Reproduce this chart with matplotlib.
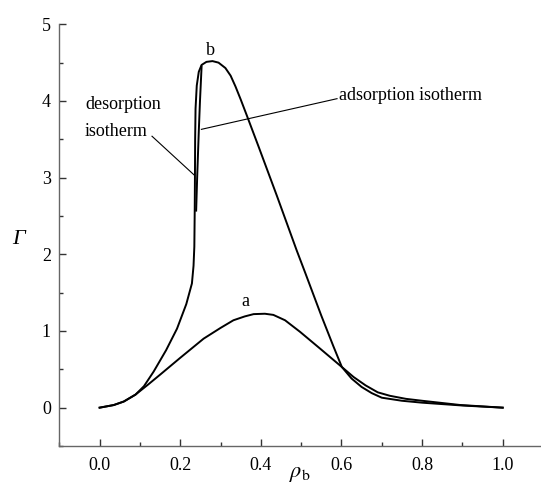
import numpy as np
from matplotlib import pyplot as plt
from matplotlib.ticker import MultipleLocator

plt.rcParams['font.family'] = ['Liberation Serif', 'DejaVu Serif']
plt.rcParams['mathtext.fontset'] = 'stix'

# curva a
x_a = [0.0, 0.035, 0.06, 0.089, 0.12, 0.15, 0.2, 0.258, 0.3, 0.332, 0.36, 0.382,
       0.41, 0.431, 0.46, 0.497, 0.547, 0.601, 0.63, 0.66, 0.69, 0.72, 0.76, 0.8,
       0.894, 1.0]
y_a = [0.0, 0.034, 0.08, 0.17, 0.30, 0.43, 0.65, 0.90, 1.04, 1.14, 1.19, 1.22,
       1.225, 1.21, 1.14, 0.99, 0.77, 0.53, 0.40, 0.29, 0.20, 0.155, 0.115, 0.09,
       0.035, 0.0]

# curva b (rama de desorcion + pico + bajada)
x_b = [0.0, 0.035, 0.06, 0.089, 0.11, 0.134, 0.165, 0.192, 0.215, 0.229, 0.233,
       0.235, 0.236, 0.2365, 0.237, 0.238, 0.241, 0.246, 0.253, 0.265, 0.28, 0.295,
       0.312, 0.325, 0.337, 0.35, 0.366, 0.394, 0.44, 0.489, 0.51, 0.55, 0.58,
       0.601, 0.625, 0.65, 0.675, 0.70, 0.75, 0.8, 0.9, 1.0]
y_b = [0.0, 0.034, 0.08, 0.17, 0.28, 0.47, 0.75, 1.03, 1.35, 1.62, 1.85,
       2.1, 2.6, 3.0, 3.5, 3.9, 4.2, 4.38, 4.47, 4.51, 4.52, 4.50,
       4.43, 4.33, 4.19, 4.02, 3.80, 3.41, 2.76, 2.05, 1.76, 1.20, 0.80,
       0.53, 0.38, 0.27, 0.19, 0.13, 0.09, 0.065, 0.028, 0.0]

# salto de adsorcion
x_ads = [0.2395, 0.242, 0.246, 0.249, 0.253]
y_ads = [2.57, 3.0, 3.6, 4.0, 4.45]

fig = plt.figure(figsize=(5.41, 4.88), dpi=100)
ax = fig.add_axes([59.3 / 541, 1 - 446 / 488, 1 - 59.3 / 541, (446 - 24.3) / 488])

ax.plot(x_a, y_a, color='black', lw=1.4)
ax.plot(x_b, y_b, color='black', lw=1.4)
ax.plot(x_ads, y_ads, color='black', lw=1.4)

# lineas guia de las etiquetas
ax.plot([0.589, 0.2525], [4.03, 3.63], color='black', lw=0.8)
ax.plot([0.130, 0.2355], [3.54, 3.03], color='black', lw=0.8)

fs = 13
ax.text(0.275, 4.66, 'b', fontsize=fs, ha='center', va='center')
ax.text(0.361, 1.38, 'a', fontsize=fs, ha='center', va='center')
ax.text(0.595, 4.07, 'adsorption isotherm', fontsize=fs, ha='left', va='center')
ax.text(-0.036, 3.95, 'desorption', fontsize=fs, ha='left', va='center')
ax.text(-0.036, 3.60, 'isotherm', fontsize=fs, ha='left', va='center')

ax.set_xlim(-0.1, 1.095)
ax.set_ylim(-0.5, 5)
ax.xaxis.set_minor_locator(MultipleLocator(0.1))
ax.yaxis.set_major_locator(MultipleLocator(1))
ax.yaxis.set_minor_locator(MultipleLocator(0.5))
ax.set_xticks([0.0, 0.2, 0.4, 0.6, 0.8, 1.0])
ax.set_xticklabels(['0.0', '0.2', '0.4', '0.6', '0.8', '1.0'])

for s in ['top', 'right']:
    ax.spines[s].set_visible(False)
for s in ['left', 'bottom']:
    ax.spines[s].set_color('#666666')
    ax.spines[s].set_linewidth(1.0)

ax.tick_params(which='both', direction='in', colors='#333333', labelcolor='black',
               labelsize=fs)
ax.tick_params(which='major', length=5, width=1)
ax.tick_params(which='minor', length=3, width=1)
ax.tick_params(axis='x', pad=8)
ax.tick_params(axis='y', pad=6)

fig.text(18 / 541, 1 - 240 / 488, 'Γ', fontsize=16, fontstyle='italic',
         ha='center', va='center')
fig.text(300 / 541, 1 - 474 / 488, r'$\rho_{\rm b}$', fontsize=16,
         ha='center', va='center')

fig.savefig('out.png', dpi=100)
